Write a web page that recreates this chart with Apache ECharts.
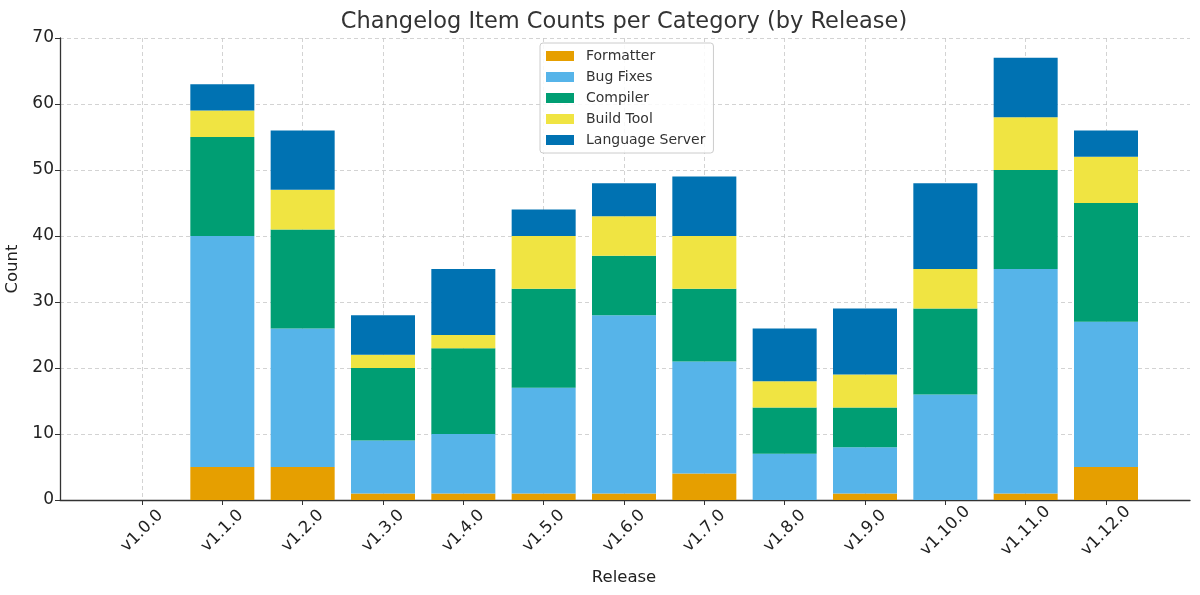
<!DOCTYPE html>
<html>
<head>
<meta charset="utf-8">
<script src="https://cdn.jsdelivr.net/npm/echarts@6/dist/echarts.min.js"></script>
<style>html,body{margin:0;padding:0;background:#fff}#c{width:1200px;height:595px}</style>
</head>
<body>
<div id="c"></div>
<script>
const categories = ['v1.0.0','v1.1.0','v1.2.0','v1.3.0','v1.4.0','v1.5.0','v1.6.0','v1.7.0','v1.8.0','v1.9.0','v1.10.0','v1.11.0','v1.12.0'];
const formatter      = [0, 5, 5, 1, 1, 1, 1, 4, 0, 1, 0, 1, 5];
const bugFixes       = [0, 35, 21, 8, 9, 16, 27, 17, 7, 7, 16, 34, 22];
const compiler       = [0, 15, 15, 11, 13, 15, 9, 11, 7, 6, 13, 15, 18];
const buildTool      = [0, 4, 6, 2, 2, 8, 6, 8, 4, 5, 6, 8, 7];
const languageServer = [0, 4, 9, 6, 10, 4, 5, 9, 8, 10, 13, 9, 4];
const yTicks = [0, 10, 20, 30, 40, 50, 60, 70];

const seriesDefs = [
  ['Formatter', formatter, '#E69F00'],
  ['Bug Fixes', bugFixes, '#56B4E9'],
  ['Compiler', compiler, '#009E73'],
  ['Build Tool', buildTool, '#F0E442'],
  ['Language Server', languageServer, '#0072B2']
];

const font = 'DejaVu Sans';
const gridLine = {color: '#c8c8c8', type: [4, 3], width: 0.8};
const chart = echarts.init(document.getElementById('c'));
chart.setOption({
  animation: false,
  backgroundColor: '#fff',
  title: {
    text: 'Changelog Item Counts per Category (by Release)',
    left: 619, top: 6, textAlign: 'center',
    textStyle: {fontFamily: font, fontSize: 22.5, fontWeight: 'normal', color: '#333'}
  },
  legend: {
    orient: 'vertical', left: 540, top: 43,
    itemWidth: 28, itemHeight: 10, itemGap: 7,
    padding: [6, 8, 6, 6],
    borderColor: '#ccc', borderWidth: 1, borderRadius: 3,
    backgroundColor: 'rgba(255,255,255,0.85)',
    icon: 'rect',
    textStyle: {fontFamily: font, fontSize: 14, color: '#333', padding: [0, 0, 0, 7]},
    data: seriesDefs.map(d => d[0])
  },
  grid: [
    {left: 142, right: 94, top: 38, bottom: 95, containLabel: false, outerBoundsMode: 'none'},
    {left: 60, right: 10, top: 38, bottom: 95, containLabel: false, outerBoundsMode: 'none'}
  ],
  xAxis: [
    {
      type: 'category', gridIndex: 0, data: categories, boundaryGap: false,
      name: 'Release', nameLocation: 'middle', nameGap: 69,
      nameTextStyle: {fontFamily: font, fontSize: 16.5, color: '#222'},
      axisLine: {show: false},
      axisTick: {show: true, length: 5, lineStyle: {color: '#333'}},
      axisLabel: {rotate: 45, align: 'center', verticalAlign: 'middle',
        fontFamily: font, fontSize: 16.5, color: '#222', margin: 31, interval: 0},
      splitLine: {show: true, interval: 0, lineStyle: gridLine}
    },
    {
      type: 'value', gridIndex: 1, min: 0, max: 1,
      axisLine: {show: true, onZero: false, lineStyle: {color: '#333', width: 1.3}},
      axisTick: {show: false}, axisLabel: {show: false}, splitLine: {show: false}
    }
  ],
  yAxis: [
    {
      type: 'value', gridIndex: 0, min: 0, max: 70, interval: 10, show: false
    },
    {
      type: 'value', gridIndex: 1, min: 0, max: 70, interval: 10,
      name: 'Count', nameLocation: 'middle', nameGap: 26,
      nameTextStyle: {fontFamily: font, fontSize: 16.5, color: '#222'},
      axisLine: {show: true, lineStyle: {color: '#333', width: 1.3}},
      axisTick: {show: true, length: 5, lineStyle: {color: '#333'}},
      axisLabel: {fontFamily: font, fontSize: 17, color: '#222', margin: 6,
        formatter: v => yTicks.includes(v) ? String(v) : ''},
      splitLine: {show: true, lineStyle: gridLine}
    }
  ],
  series: seriesDefs.map(([name, vals, color]) => ({
    name, type: 'bar', stack: 'total', barWidth: 64, clip: false,
    xAxisIndex: 0, yAxisIndex: 0,
    itemStyle: {color},
    data: vals
  }))
});
</script>
</body>
</html>
